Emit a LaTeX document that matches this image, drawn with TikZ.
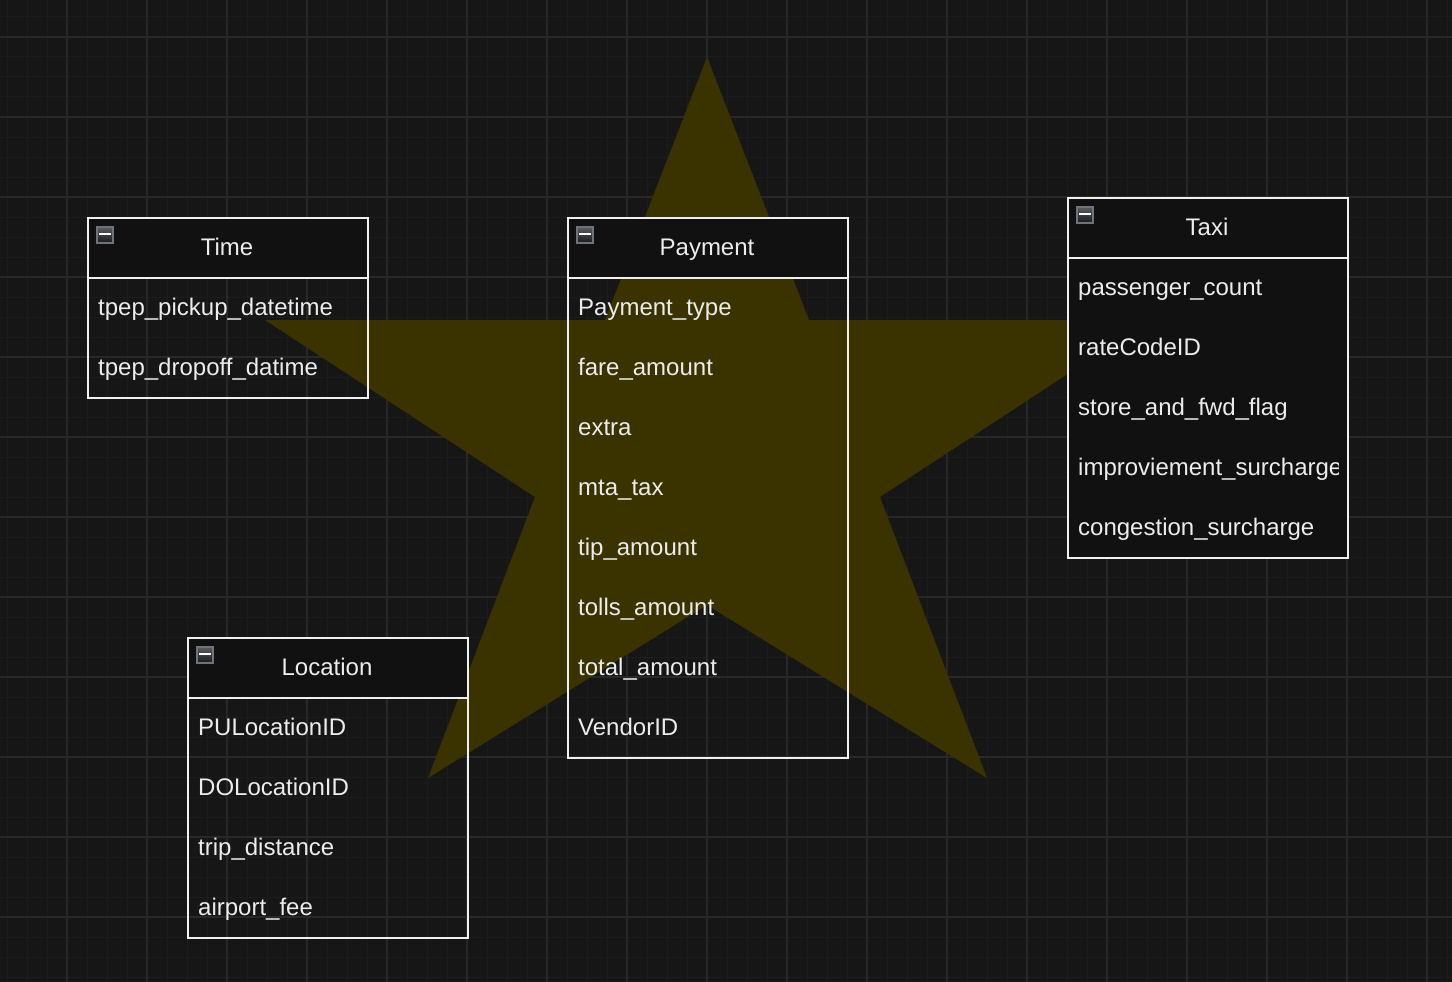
\documentclass[tikz,border=0pt]{standalone}
\usepackage{fontspec}
\setmainfont{Liberation Sans}
\definecolor{bgc}{RGB}{22,22,22}
\definecolor{gmaj}{RGB}{40,40,40}
\definecolor{gmin}{RGB}{28,28,28}
\definecolor{starc}{RGB}{58,51,0}
\definecolor{hdrc}{RGB}{17,17,17}
\definecolor{linec}{RGB}{240,240,240}
\definecolor{txtc}{RGB}{236,236,236}
\definecolor{iconb}{RGB}{110,116,124}
\definecolor{icont}{RGB}{90,92,96}
\definecolor{iconbt}{RGB}{25,25,28}
\tikzset{
  tbl/.style={draw=linec, line width=2pt, minimum width=280pt, anchor=north west, inner sep=0pt},
  hdr/.style={draw=linec, line width=2pt, fill=hdrc, minimum width=280pt, minimum height=60pt, anchor=north west, inner sep=0pt},
  title/.style={text=txtc, font=\fontsize{24}{28}\selectfont, anchor=base, inner sep=0pt},
  field/.style={text=txtc, font=\fontsize{24}{28}\selectfont, anchor=base west, inner sep=0pt},
  icon/.style={draw=iconb, line width=1.2pt, top color=icont, bottom color=iconbt, minimum size=16pt, inner sep=0pt},
  minus/.style={draw=white, line width=2pt}
}
\begin{document}
\begin{tikzpicture}[x=1pt,y=-1pt]
\useasboundingbox (0,0) rectangle (1452,982);
\fill[bgc] (0,0) rectangle (1452,982);
% grid
\foreach \x in {7,27,...,1450} \draw[gmin, line width=1pt] (\x,0) -- (\x,982);
\foreach \y in {17,37,...,980} \draw[gmin, line width=1pt] (0,\y) -- (1452,\y);
\foreach \x in {67,147,...,1450} \draw[gmaj, line width=1.3pt] (\x,0) -- (\x,982);
\foreach \y in {37,117,...,980} \draw[gmaj, line width=1.3pt] (0,\y) -- (1452,\y);
% star
\fill[starc] (707,57) -- (809,320) -- (1150,320) -- (880,497) -- (987,778) -- (707,605) -- (428,778) -- (535,497) -- (265,320) -- (605,320) -- cycle;
% Time
\node[tbl, minimum height=180pt] (time) at (87,217) {};
\node[hdr] (timeH) at (87,217) {};
\node[title] (timeT) at (227,255) {Time};
\node[icon] (timeI) at (105,235) {};
\draw[minus] ([xshift=-6pt,yshift=1pt]timeI.center) -- ([xshift=6pt,yshift=1pt]timeI.center);
\node[field] (time1) at (98,315) {tpep\_pickup\_datetime};
\node[field] (time2) at (98,375) {tpep\_dropoff\_datime};
% Payment
\node[tbl, minimum height=540pt] (pay) at (567,217) {};
\node[hdr] (payH) at (567,217) {};
\node[title] (payT) at (707,255) {Payment};
\node[icon] (payI) at (585,235) {};
\draw[minus] ([xshift=-6pt,yshift=1pt]payI.center) -- ([xshift=6pt,yshift=1pt]payI.center);
\node[field] (pay1) at (578,315) {Payment\_type};
\node[field] (pay2) at (578,375) {fare\_amount};
\node[field] (pay3) at (578,435) {extra};
\node[field] (pay4) at (578,495) {mta\_tax};
\node[field] (pay5) at (578,555) {tip\_amount};
\node[field] (pay6) at (578,615) {tolls\_amount};
\node[field] (pay7) at (578,675) {total\_amount};
\node[field] (pay8) at (578,735) {VendorID};
% Taxi
\node[tbl, fill=hdrc, minimum height=360pt] (taxi) at (1067,197) {};
\node[hdr] (taxiH) at (1067,197) {};
\node[title] (taxiT) at (1207,235) {Taxi};
\node[icon] (taxiI) at (1085,215) {};
\draw[minus] ([xshift=-6pt,yshift=1pt]taxiI.center) -- ([xshift=6pt,yshift=1pt]taxiI.center);
\node[field] (taxi1) at (1078,295) {passenger\_count};
\node[field] (taxi2) at (1078,355) {rateCodeID};
\node[field] (taxi3) at (1078,415) {store\_and\_fwd\_flag};
\begin{scope}
\clip (1068,440) rectangle (1338,500);
\node[field] (taxi4) at (1078,475) {improviement\_surcharge};
\end{scope}
\node[field] (taxi5) at (1078,535) {congestion\_surcharge};
% Location
\node[tbl, minimum height=300pt] (loc) at (187,637) {};
\node[hdr] (locH) at (187,637) {};
\node[title] (locT) at (327,675) {Location};
\node[icon] (locI) at (205,655) {};
\draw[minus] ([xshift=-6pt,yshift=1pt]locI.center) -- ([xshift=6pt,yshift=1pt]locI.center);
\node[field] (loc1) at (198,735) {PULocationID};
\node[field] (loc2) at (198,795) {DOLocationID};
\node[field] (loc3) at (198,855) {trip\_distance};
\node[field] (loc4) at (198,915) {airport\_fee};
\end{tikzpicture}
\end{document}
